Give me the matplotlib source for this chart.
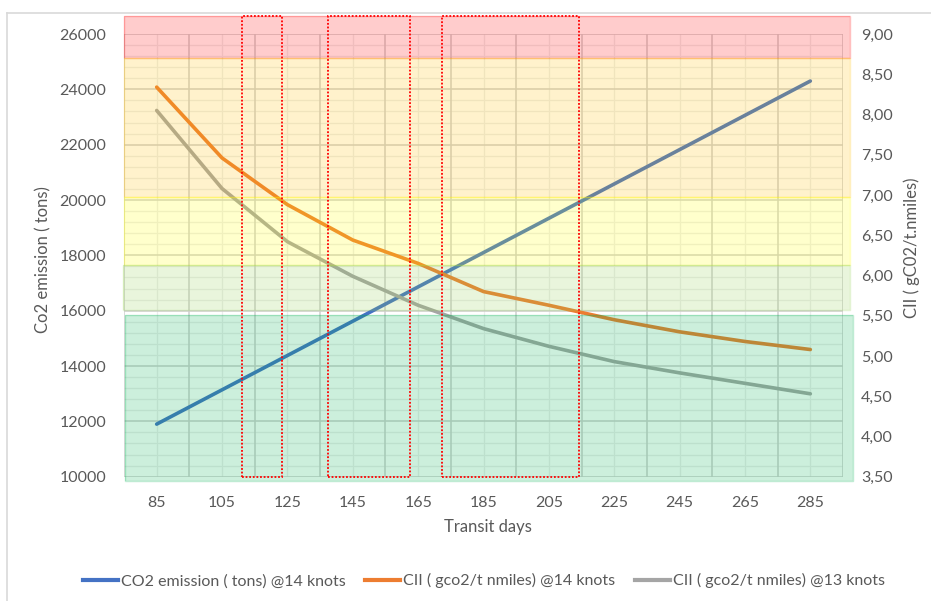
import matplotlib
matplotlib.use("Agg")
import matplotlib.pyplot as plt
from matplotlib.patches import Rectangle
from matplotlib.lines import Line2D
from matplotlib.ticker import FixedLocator, MultipleLocator, FuncFormatter

plt.rcParams['font.family'] = ['Lato', 'DejaVu Sans']

# ---------------- data ----------------
transit_days = [85, 105, 125, 145, 165, 185, 205, 225, 245, 265, 285]
co2_14kn = [11900, 13140, 14380, 15620, 16860, 18100, 19340, 20580, 21820, 23060, 24300]
cii_14kn = [8.34, 7.46, 6.88, 6.44, 6.15, 5.80, 5.63, 5.45, 5.30, 5.18, 5.08]
cii_13kn = [8.05, 7.08, 6.42, 5.99, 5.63, 5.34, 5.12, 4.93, 4.79, 4.66, 4.53]

series_labels = ["CO2 emission ( tons) @14 knots",
                 "CII ( gco2/t nmiles) @14 knots",
                 "CII ( gco2/t nmiles) @13 knots"]

left_ticks = [10000, 12000, 14000, 16000, 18000, 20000, 22000, 24000, 26000]
right_ticks = [3.5, 4.0, 4.5, 5.0, 5.5, 6.0, 6.5, 7.0, 7.5, 8.0, 8.5, 9.0]

# CII rating bands (in left-axis units, x in category positions)
band_x0 = [-0.50, -0.50, -0.50, -0.52, -0.48]
band_x1 = [10.61, 10.61, 10.61, 10.60, 10.65]
band_y0 = [25130, 20100, 17640, 16010, 9830]
band_y1 = [26660, 25130, 20100, 17640, 15830]
band_colors = ["#FF0000", "#FFC000", "#FFFF00", "#92D050", "#00B050"]

# highlighted transit-day windows (category positions)
win_x0 = [1.30, 2.62, 4.37]
win_x1 = [1.91, 3.87, 6.46]
win_y0 = 10000
win_y1 = 26650

# ---------------- figure ----------------
W, H = 931, 601
fig = plt.figure(figsize=(W / 100, H / 100), dpi=100)
fig.patch.set_facecolor("white")

L, R, T, B = 124, 843, 34, 476.7
pos = [L / W, 1 - B / H, (R - L) / W, (B - T) / H]
ax = fig.add_axes(pos)
ax.set_facecolor("none")

txt = "#595959"
colors = ["#4472C4", "#ED7D31", "#A5A5A5"]
lw = 2.6

x = list(range(len(transit_days)))
ax.set_xlim(-0.5, len(transit_days) - 0.5)
ax.set_ylim(10000, 26000)

# gridlines
ax.yaxis.set_major_locator(FixedLocator(left_ticks))
ax.yaxis.set_minor_locator(MultipleLocator(400))
ax.xaxis.set_major_locator(FixedLocator(x))
ax.xaxis.set_minor_locator(FixedLocator([i - 0.5 for i in range(len(x) + 1)]))
ax.set_xticklabels([str(d) for d in transit_days])
ax.yaxis.set_major_formatter(FuncFormatter(lambda v, p: f"{int(v)}"))
for yv in [v for v in range(10000, 26001, 400) if v % 2000 != 0]:
    ax.axhline(yv, color="#EDEDED", lw=0.9, zorder=0)
for yv in left_ticks:
    ax.axhline(yv, color="#D0D0D0", lw=1.1, zorder=0.5)
for xv in x:
    ax.axvline(xv, color="#EDEDED", lw=0.9, zorder=0)
for i in range(len(x) + 1):
    ax.axvline(i - 0.5, color="#D0D0D0", lw=1.1, zorder=0.5)

ax.tick_params(axis="both", which="both", length=0, colors=txt, labelsize=11.5)
ax.tick_params(axis="y", pad=13)
ax.tick_params(axis="x", pad=14)
for s in ax.spines.values():
    s.set_visible(False)

ax.plot(x, co2_14kn, color=colors[0], lw=lw, solid_capstyle="round", zorder=3)

ax2 = ax.twinx()
ax2.set_ylim(3.5, 9.0)
ax2.yaxis.set_major_locator(FixedLocator(right_ticks))
ax2.yaxis.set_major_formatter(FuncFormatter(lambda v, p: f"{v:.2f}".replace(".", ",")))
ax2.tick_params(axis="y", length=0, colors=txt, labelsize=11.5, pad=13)
for s in ax2.spines.values():
    s.set_visible(False)
ax2.plot(x, cii_14kn, color=colors[1], lw=lw, solid_capstyle="round", zorder=3)
ax2.plot(x, cii_13kn, color=colors[2], lw=lw, solid_capstyle="round", zorder=3)

ax.set_ylabel("Co2 emission ( tons)", color=txt, fontsize=12, va="center", ha="center")
ax.yaxis.set_label_coords((43 - L) / (R - L), (B - 260) / (B - T))
ax2.set_ylabel("CII ( gC02/t.nmiles)", color=txt, fontsize=12, va="center", ha="center")
ax2.yaxis.set_label_coords((912 - L) / (R - L), (B - 248) / (B - T))
ax.set_xlabel("Transit days", color=txt, fontsize=12, va="center", ha="center")
ax.xaxis.set_label_coords((488 - L) / (R - L), (B - 527) / (B - T))

# overlay axes for bands and windows
ax3 = fig.add_axes(pos, sharex=None)
ax3.set_xlim(ax.get_xlim())
ax3.set_ylim(ax.get_ylim())
ax3.axis("off")
for x0, x1, y0, y1, c in zip(band_x0, band_x1, band_y0, band_y1, band_colors):
    ax3.add_patch(Rectangle((x0, y0), x1 - x0, y1 - y0, facecolor=c, alpha=0.2,
                            edgecolor="none", clip_on=False, zorder=1))
    ax3.add_patch(Rectangle((x0, y0), x1 - x0, y1 - y0, facecolor="none",
                            edgecolor=c, alpha=0.25, lw=1.0, clip_on=False, zorder=1))
for x0, x1 in zip(win_x0, win_x1):
    ax3.add_patch(Rectangle((x0, win_y0), x1 - x0, win_y1 - win_y0, facecolor="none",
                            edgecolor="#FF0000", lw=1.3, linestyle=(0, (1, 1)),
                            clip_on=False, zorder=2))

# chart frame
fig.add_artist(Line2D([7 / W, 1.0], [1 - 13 / H, 1 - 13 / H], transform=fig.transFigure,
                      color="#D9D9D9", lw=1.2))
fig.add_artist(Line2D([7 / W, 7 / W], [0.0, 1 - 13 / H], transform=fig.transFigure,
                      color="#D9D9D9", lw=1.2))

handles = [Line2D([0], [0], color=c, lw=3) for c in colors]
fig.legend(handles, series_labels, loc="center", bbox_to_anchor=(484 / W, 1 - 580.7 / H),
           ncol=3, frameon=False, fontsize=11.5, handlelength=2.2, handletextpad=0.2,
           columnspacing=1.2, labelcolor=txt)

fig.savefig("out.png", dpi=100, facecolor="white")
